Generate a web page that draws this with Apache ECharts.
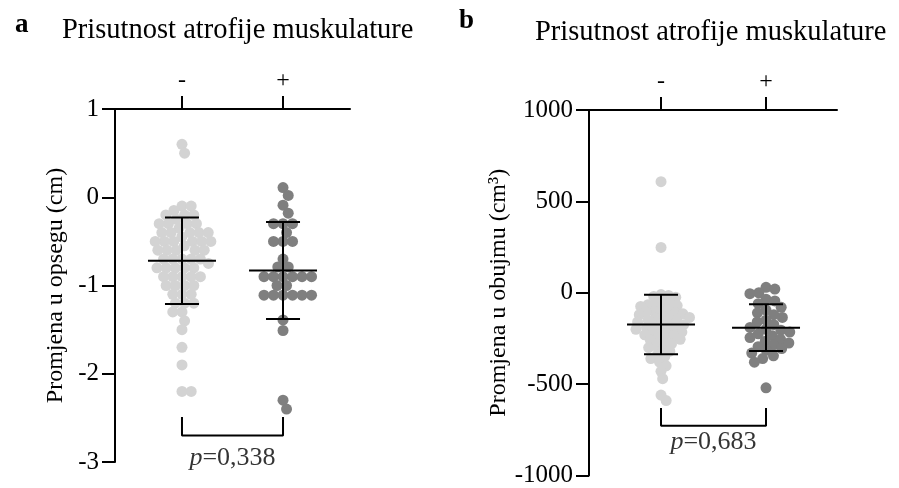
<!DOCTYPE html>
<html><head><meta charset="utf-8">
<script src="https://cdn.jsdelivr.net/npm/echarts@6/dist/echarts.min.js"></script>
<style>html,body{margin:0;padding:0;background:#fff}#c{width:899px;height:488px}</style>
</head><body><div id="c"></div>
<script>
// ---- data ----
const groupLabels = ['-', '+'];
const girthAbsent = [0.6, 0.5,
  -0.1, -0.1, -0.15,
  -0.2, -0.2, -0.2, -0.25,
  -0.3, -0.3, -0.3, -0.3, -0.35,
  -0.4, -0.4, -0.4, -0.4, -0.4, -0.45,
  -0.5, -0.5, -0.5, -0.5, -0.5, -0.5, -0.55,
  -0.6, -0.6, -0.6, -0.6, -0.6,
  -0.7, -0.7, -0.7, -0.7, -0.7, -0.75,
  -0.8, -0.8, -0.8, -0.8, -0.8,
  -0.9, -0.9, -0.9, -0.9, -0.9,
  -1.0, -1.0, -1.0, -1.0,
  -1.1, -1.1, -1.1,
  -1.2, -1.2, -1.2,
  -1.3, -1.3, -1.4, -1.5, -1.7, -1.9, -2.2, -2.2];
const girthPresent = [0.11, 0.02, -0.09, -0.18,
  -0.3, -0.3, -0.3, -0.4, -0.5, -0.5, -0.5,
  -0.7, -0.79, -0.79,
  -0.9, -0.9, -0.9, -0.9, -0.9, -0.9,
  -1.0, -1.0,
  -1.11, -1.11, -1.11, -1.11, -1.11, -1.11,
  -1.39, -1.51, -2.3, -2.4];
const volumeAbsent = [608, 248,
  -10, -15, -20, -25,
  -50, -55, -60, -65, -70, -75,
  -90, -95, -100, -105, -110, -115, -120,
  -130, -135, -140, -145, -150, -155, -160,
  -170, -175, -180, -185, -190, -195, -200,
  -210, -215, -220, -225, -230, -235,
  -250, -255, -260, -270, -280,
  -290, -300, -310, -320,
  -340, -350, -360,
  -380, -400, -430, -470, -560, -590];
const volumePresent = [30, 20, 0, -5,
  -35, -45, -60, -80,
  -95, -110, -120,
  -135, -150, -160, -175,
  -190, -200, -205, -215, -225,
  -235, -245, -255, -265, -275,
  -285, -295, -305, -315,
  -330, -345, -360, -380, -520];
const girthMean = [-0.72, -0.83];
const girthSD = [0.49, 0.55];
const volumeMean = [-174, -191];
const volumeSD = [163, 128];
const pValues = ['0,338', '0,683'];
const panelTitle = 'Prisutnost atrofije muskulature';
const girthAxisName = 'Promjena u opsegu (cm)';
const volumeAxisName = 'Promjena u obujmu (cm³)';

// ---- layout / style constants ----
const FONT = '"Liberation Serif", "Times New Roman", serif';
const LIGHT = '#d3d3d3', DARK = '#7f7f7f';
const DOT = 11;
const bracketA = {top: -2.49, bottom: -2.70, label: -2.96};
const bracketB = {top: -630, bottom: -728, label: -815};

const chart = echarts.init(document.getElementById('c'), null, {renderer: 'canvas'});

function xAxis(gi, min, max) {
  return {
    gridIndex: gi, type: 'value', position: 'top', min: min, max: max,
    axisLine: {show: true, onZero: false, lineStyle: {color: '#000', width: 2}},
    axisTick: {show: true, customValues: [0, 1], length: 13, lineStyle: {color: '#000', width: 2}},
    axisLabel: {show: true, customValues: [0, 1], margin: 16, color: '#000', fontFamily: FONT, fontSize: 24,
      formatter: v => groupLabels[Math.round(v)]},
    splitLine: {show: false}
  };
}
function yAxis(gi, min, max, interval, name, gap) {
  return {
    gridIndex: gi, type: 'value', min: min, max: max, interval: interval,
    name: name, nameLocation: 'middle', nameGap: gap,
    nameTextStyle: {color: '#000', fontFamily: FONT, fontSize: 24},
    axisLine: {show: true, onZero: false, lineStyle: {color: '#000', width: 2}},
    axisTick: {show: true, length: 13, lineStyle: {color: '#000', width: 2}},
    axisLabel: {margin: 16, color: '#000', fontFamily: FONT, fontSize: 25, formatter: v => String(v)},
    splitLine: {show: false}
  };
}
function errorSeries(gi, means, sds) {
  return {
    type: 'custom', xAxisIndex: gi, yAxisIndex: gi, z: 10,
    data: means.map((m, i) => [i, m, sds[i]]),
    renderItem: (params, api) => {
      const x = api.value(0), m = api.value(1), s = api.value(2);
      const pm = api.coord([x, m]), pt = api.coord([x, m + s]), pb = api.coord([x, m - s]);
      const hw = 34, cw = 17;
      const st = {stroke: '#000', lineWidth: 2};
      return {type: 'group', children: [
        {type: 'line', shape: {x1: pm[0] - hw, y1: pm[1], x2: pm[0] + hw, y2: pm[1]}, style: st},
        {type: 'line', shape: {x1: pt[0], y1: pt[1], x2: pb[0], y2: pb[1]}, style: st},
        {type: 'line', shape: {x1: pt[0] - cw, y1: pt[1], x2: pt[0] + cw, y2: pt[1]}, style: st},
        {type: 'line', shape: {x1: pb[0] - cw, y1: pb[1], x2: pb[0] + cw, y2: pb[1]}, style: st}
      ]};
    }
  };
}
function bracketSeries(gi, b, p) {
  return [{
    type: 'line', xAxisIndex: gi, yAxisIndex: gi, symbol: 'none', silent: true,
    lineStyle: {color: '#000', width: 2},
    data: [[0, b.top], [0, b.bottom], [1, b.bottom], [1, b.top]]
  }, {
    type: 'scatter', xAxisIndex: gi, yAxisIndex: gi, symbolSize: 0, silent: true,
    data: [[0.5, b.label]],
    label: {show: true, position: 'inside', formatter: '{i|p}=' + p,
      color: '#000', fontFamily: FONT, fontSize: 26,
      rich: {i: {fontStyle: 'italic', fontFamily: FONT, fontSize: 26, color: '#000'}}}
  }];
}

const baseOption = {
  animation: false,
  backgroundColor: '#fff',
  title: [
    {text: 'a', left: 10, top: 7, textStyle: {fontFamily: FONT, fontWeight: 'bold', fontSize: 27, color: '#000'}},
    {text: panelTitle, left: 57, top: 11, textStyle: {fontFamily: FONT, fontWeight: 'normal', fontSize: 28.5, color: '#000'}},
    {text: 'b', left: 454, top: 3, textStyle: {fontFamily: FONT, fontWeight: 'bold', fontSize: 27, color: '#000'}},
    {text: panelTitle, left: 530, top: 13, textStyle: {fontFamily: FONT, fontWeight: 'normal', fontSize: 28.5, color: '#000'}}
  ],
  grid: [
    {left: 115, top: 109, width: 235, height: 353},
    {left: 589, top: 110, width: 248, height: 367}
  ],
  xAxis: [xAxis(0, -0.663, 1.663), xAxis(1, -0.686, 1.676)],
  yAxis: [yAxis(0, -3, 1, 1, girthAxisName, 47), yAxis(1, -1000, 1000, 500, volumeAxisName, 70)],
  series: []
};
chart.setOption(baseOption);

function swarm(values, center, gi, d) {
  const toPx = v => chart.convertToPixel({gridIndex: gi}, [center, v]);
  const x0 = toPx(0)[0];
  const unit = chart.convertToPixel({gridIndex: gi}, [center + 1, 0])[0] - x0;
  const pts = values.map(v => ({v: v, py: toPx(v)[1], px: 0}));
  const order = pts.slice().sort((a, b) => a.py - b.py);
  const placed = [];
  for (const p of order) {
    const cands = [0];
    for (const q of placed) {
      const dy = p.py - q.py;
      if (Math.abs(dy) < d) {
        const dx = Math.sqrt(d * d - dy * dy);
        cands.push(q.px + dx + 0.01, q.px - dx - 0.01);
      }
    }
    cands.sort((a, b) => Math.abs(a) - Math.abs(b));
    for (const c of cands) {
      if (placed.every(q => (q.px - c) * (q.px - c) + (q.py - p.py) * (q.py - p.py) >= d * d - 0.05)) { p.px = c; break; }
    }
    placed.push(p);
  }
  return pts.map(p => [center + p.px / unit, p.v]);
}

function dots(gi, values, center, color, d) {
  return {type: 'scatter', xAxisIndex: gi, yAxisIndex: gi, symbol: 'circle', symbolSize: DOT,
    itemStyle: {color: color, opacity: 1}, z: 2, data: swarm(values, center, gi, d)};
}

chart.setOption({series: [
  dots(0, girthAbsent, 0, LIGHT, 9.2),
  dots(0, girthPresent, 1, DARK, 9.5),
  dots(1, volumeAbsent, 0, LIGHT, 7.5),
  dots(1, volumePresent, 1, DARK, 9),
  errorSeries(0, girthMean, girthSD),
  errorSeries(1, volumeMean, volumeSD),
  ...bracketSeries(0, bracketA, pValues[0]),
  ...bracketSeries(1, bracketB, pValues[1])
]});
</script></body></html>
